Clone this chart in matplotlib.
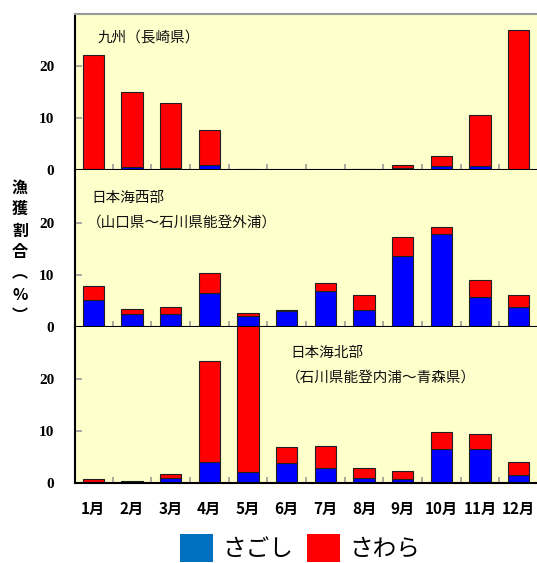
import matplotlib.pyplot as plt
from matplotlib.patches import Patch
import numpy as np

months = ['1月', '2月', '3月', '4月', '5月', '6月', '7月', '8月', '9月', '10月', '11月', '12月']

# 九州（長崎県）
kyushu_sagoshi = [0.2, 0.7, 0.5, 1.0, 0.05, 0.0, 0.0, 0.1, 0.4, 0.8, 0.9, 0.1]
kyushu_sawara = [21.9, 14.4, 12.4, 6.8, 0.25, 0.05, 0.05, 0.1, 0.6, 1.9, 9.8, 26.8]

# 日本海西部
west_sagoshi = [5.1, 2.5, 2.5, 6.4, 2.1, 3.0, 6.9, 3.2, 13.6, 17.9, 5.7, 3.9]
west_sawara = [2.8, 1.0, 1.3, 3.9, 0.6, 0.3, 1.5, 2.9, 3.7, 1.3, 3.2, 2.2]

# 日本海北部
north_sagoshi = [0.3, 0.1, 1.0, 4.0, 2.2, 3.8, 3.0, 1.0, 0.8, 6.6, 6.6, 1.6]
north_sawara = [0.5, 0.3, 0.7, 19.5, 29.5, 3.1, 4.2, 2.0, 1.6, 3.2, 2.9, 2.5]

panels = [
    (kyushu_sagoshi, kyushu_sawara, ['九州（長崎県）'], [(0.048, 0.847)]),
    (west_sagoshi, west_sawara, ['日本海西部', '（山口県～石川県能登外浦）'],
     [(0.036, 0.822), (0.026, 0.669)]),
    (north_sagoshi, north_sawara, ['日本海北部', '（石川県能登内浦～青森県）'],
     [(0.465, 0.835), (0.455, 0.675)]),
]

jp = ['Noto Sans CJK JP', 'DejaVu Sans']
bg = '#FFFFCC'

fig = plt.figure(figsize=(5.37, 5.63), dpi=100)
gs = fig.add_gridspec(3, 1, left=75/537, right=1.002, top=1 - 14/563,
                      bottom=1 - 483.3/563, hspace=0)

x = np.arange(len(months))
for i, (sag, saw, titles, pos) in enumerate(panels):
    ax = fig.add_subplot(gs[i])
    ax.set_facecolor(bg)
    ax.bar(x, sag, width=0.55, color='#0000FF', edgecolor='#202020', linewidth=0.8)
    ax.bar(x, saw, bottom=sag, width=0.55, color='#FF0000', edgecolor='#202020',
           linewidth=0.8)
    ax.set_xlim(-0.47, 11.5)
    ax.set_ylim(0, 30)
    ax.set_yticks([0, 10, 20])
    ax.tick_params(axis='y', direction='in', length=5, width=1.2, color='#999999',
                   pad=15)
    for lab in ax.get_yticklabels():
        lab.set_fontfamily('Liberation Serif')
        lab.set_fontweight('bold')
        lab.set_fontsize(11)
    ax.set_xticks(x)
    ax.set_xticks(x[:-1] + 0.5, minor=True)
    ax.tick_params(axis='x', which='major', length=0, pad=13)
    ax.tick_params(axis='x', which='minor', direction='in', length=4, width=1.2,
                   color='#999999')
    if i == 2:
        ax.set_xticklabels(months, fontfamily=jp, fontweight='bold', fontsize=11)
    else:
        ax.set_xticklabels([])
    ax.spines['left'].set_color('black')
    ax.spines['left'].set_linewidth(1.5)
    ax.spines['bottom'].set_color('black')
    ax.spines['bottom'].set_linewidth(1.5)
    ax.spines['right'].set_visible(False)
    if i == 0:
        ax.spines['top'].set_color('#999999')
        ax.spines['top'].set_linewidth(1.5)
    else:
        ax.spines['top'].set_visible(False)
    for t, (tx, ty) in zip(titles, pos):
        ax.text(tx, ty, t, transform=ax.transAxes, fontfamily=jp, fontsize=10.5,
                va='center', ha='left', color='#111111')

ylabel = '\n'.join(['漁', '獲', '割', '合', '︵', '%', '︶'])
fig.text(20/537, 1 - 252/563, ylabel, fontfamily=jp, fontweight='bold',
         fontsize=11.5, ha='center', va='center', linespacing=1.42)

handles = [Patch(facecolor='#0070C0', edgecolor='none'),
           Patch(facecolor='#FF0000', edgecolor='none')]
fig.legend(handles, ['さごし', 'さわら'], loc='center', ncol=2, frameon=False,
           bbox_to_anchor=(300/537, 15/563),
           prop={'family': jp, 'size': 17}, handlelength=1.4, handleheight=1.4,
           handletextpad=0.4, columnspacing=0.6, borderaxespad=0)

fig.savefig('out.png', dpi=100)
